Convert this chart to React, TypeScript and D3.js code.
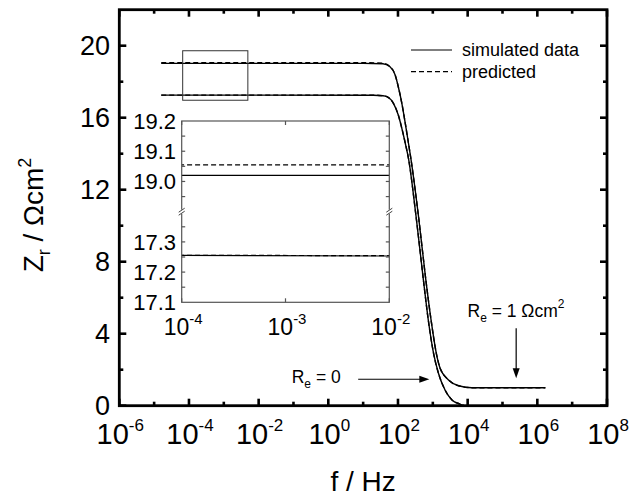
import React from "react";
import * as d3 from "d3";

// Upper curve: R_e = 1 Ωcm²
const freqUpper = [1.6e-5, 1e1, 3.7e1, 5.9e1, 8.3e1, 1.02e2, 1.29e2, 1.62e2, 2.0e2, 2.34e2, 3.89e2, 6.31e2, 8.91e2, 1.26e3, 1.62e3, 2.82e3, 5.5e3, 1.32e4, 1.7e6];
const zSimUpper = [19.02, 19.02, 19.0, 18.83, 18.37, 17.72, 16.8, 15.69, 14.58, 13.74, 10.5, 6.98, 4.76, 2.91, 2.08, 1.43, 1.11, 1.0, 1.0];
const zPredUpper = [19.055, 19.055, 19.03, 18.84, 18.37, 17.72, 16.8, 15.69, 14.58, 13.74, 10.5, 6.98, 4.76, 2.91, 2.08, 1.43, 1.11, 1.0, 1.0];

// Lower curve: R_e = 0
const freqLower = [1.6e-5, 2.0e1, 3.7e1, 4.8e1, 7.4e1, 1.02e2, 1.29e2, 1.62e2, 2.0e2, 3.31e2, 5.37e2, 7.41e2, 1.05e3, 1.45e3, 2.24e3, 3.55e3, 6.03e3, 7.9e3];
const zSimLower = [17.256, 17.25, 17.22, 17.17, 16.8, 16.15, 15.41, 14.58, 13.74, 10.5, 6.98, 4.76, 2.91, 1.8, 0.87, 0.32, 0.09, 0.0];
const zPredLower = [17.256, 17.25, 17.22, 17.17, 16.8, 16.15, 15.41, 14.58, 13.74, 10.5, 6.98, 4.76, 2.91, 1.8, 0.87, 0.32, 0.09, 0.0];

// axis ticks
const xMajorExp = [-6, -4, -2, 0, 2, 4, 6, 8];
const xMinorExp = [-5, -3, -1, 1, 3, 5, 7];
const yMajor = [0, 4, 8, 12, 16, 20];
const yMinor = [2, 6, 10, 14, 18];

// inset
const insetXExp = [-4, -3, -2];
const insetTopLabels = [19.0, 19.1, 19.2];
const insetTopTicks = [18.95, 19.0, 19.05, 19.1, 19.15];
const insetBotLabels = [17.1, 17.2, 17.3];
const insetBotTicks = [17.15, 17.2, 17.25, 17.3, 17.35];

// zoom box in main axes (data coords)
const zoomBoxF = [6.6e-5, 4.9e-3];
const zoomBoxZ = [16.97, 19.72];

const legendLabels = ["simulated data", "predicted"];

const FONT = "'Liberation Sans', Arial, Helvetica, sans-serif";

export default function App() {
  const W = 629, H = 498;
  const L = 119.3, R = 607, T = 9.7, B = 405.7;
  const x = d3.scaleLog().domain([1e-6, 1e8]).range([L, R]);
  const y = d3.scaleLinear().domain([0, 22]).range([B, T]);

  const iL = 181.7, iR = 389.3, iT = 121, iB = 302.3, iM = 211.7;
  const xi = d3.scaleLog().domain([1e-4, 1e-2]).range([iL, iR]);
  const yTop = d3.scaleLinear().domain([18.9, 19.2]).range([iM, iT]);
  const yBot = d3.scaleLinear().domain([17.1, 17.4]).range([iB, iM]);

  const mk = (xs: any, ys: any, fr: number[], zs: number[]) =>
    d3.line<number>().x((_, i) => xs(fr[i])).y((d) => ys(d)).curve(d3.curveMonotoneX)(zs) || "";

  const lineW = 1.4;
  const dash = "5,3";

  const axW = 2.8;
  const majL = 7, minL = 4;

  return (
    <svg width={W} height={H} style={{ position: "absolute", left: 0, top: 0, background: "#fff" }} fontFamily={FONT}>
      <defs>
        <clipPath id="mainclip"><rect x={L} y={T} width={R - L} height={B - T} /></clipPath>
        <clipPath id="itop"><rect x={iL} y={iT} width={iR - iL} height={iM - iT} /></clipPath>
        <clipPath id="ibot"><rect x={iL} y={iM} width={iR - iL} height={iB - iM} /></clipPath>
      </defs>

      {/* data lines main */}
      <g clipPath="url(#mainclip)" fill="none" stroke="#000">
        <path d={mk(x, y, freqUpper, zSimUpper)} strokeWidth={lineW} />
        <path d={mk(x, y, freqLower, zSimLower)} strokeWidth={lineW} />
        <path d={mk(x, y, freqUpper, zPredUpper)} strokeWidth={lineW} strokeDasharray={dash} />
        <path d={mk(x, y, freqLower, zPredLower)} strokeWidth={lineW} strokeDasharray={dash} />
      </g>

      {/* zoom box */}
      <rect x={x(zoomBoxF[0])} y={y(zoomBoxZ[1])} width={x(zoomBoxF[1]) - x(zoomBoxF[0])} height={y(zoomBoxZ[0]) - y(zoomBoxZ[1])} fill="none" stroke="#333" strokeWidth={1} />

      {/* main frame */}
      <rect x={L} y={T} width={R - L} height={B - T} fill="none" stroke="#000" strokeWidth={axW} />
      {xMajorExp.map((e) => (
        <g key={"xM" + e}>
          <line x1={x(10 ** e)} x2={x(10 ** e)} y1={B} y2={B - majL} stroke="#000" strokeWidth={2.6} />
          <line x1={x(10 ** e)} x2={x(10 ** e)} y1={T} y2={T + majL} stroke="#000" strokeWidth={2.6} />
          <text x={x(10 ** e) + 1} y={444} textAnchor="middle" fontSize={29} fill="#000">
            10<tspan dy={-13} fontSize={17}>{e}</tspan>
          </text>
        </g>
      ))}
      {xMinorExp.map((e) => (
        <g key={"xm" + e}>
          <line x1={x(10 ** e)} x2={x(10 ** e)} y1={B} y2={B - minL} stroke="#000" strokeWidth={2.6} />
          <line x1={x(10 ** e)} x2={x(10 ** e)} y1={T} y2={T + minL} stroke="#000" strokeWidth={2.6} />
        </g>
      ))}
      {yMajor.map((v) => (
        <g key={"yM" + v}>
          <line x1={L} x2={L + majL} y1={y(v)} y2={y(v)} stroke="#000" strokeWidth={2.6} />
          <line x1={R} x2={R - majL} y1={y(v)} y2={y(v)} stroke="#000" strokeWidth={2.6} />
          <text x={110} y={y(v)} dy="0.35em" textAnchor="end" fontSize={27} fill="#000">{v}</text>
        </g>
      ))}
      {yMinor.map((v) => (
        <g key={"ym" + v}>
          <line x1={L} x2={L + minL} y1={y(v)} y2={y(v)} stroke="#000" strokeWidth={2.6} />
          <line x1={R} x2={R - minL} y1={y(v)} y2={y(v)} stroke="#000" strokeWidth={2.6} />
        </g>
      ))}

      {/* axis titles */}
      <text x={(L + R) / 2} y={490.7} textAnchor="middle" fontSize={28} fill="#000">f / Hz</text>
      <text transform="translate(43,215) rotate(-90)" textAnchor="middle" fontSize={28} fill="#000">
        Z<tspan dy={7} fontSize={18}>r</tspan><tspan dy={-7}> / Ωcm</tspan><tspan dy={-12} fontSize={18}>2</tspan>
      </text>

      {/* legend */}
      <line x1={411} x2={452} y1={50} y2={50} stroke="#000" strokeWidth={1.2} />
      <text x={462} y={56} fontSize={18} fill="#000">{legendLabels[0]}</text>
      <line x1={411} x2={452} y1={71.7} y2={71.7} stroke="#000" strokeWidth={1.2} strokeDasharray={dash} />
      <text x={462} y={78} fontSize={18} fill="#000">{legendLabels[1]}</text>

      {/* annotations */}
      <text x={x(0.089)} y={y(1.24)} fontSize={17.5} fill="#000">
        R<tspan dy={5} fontSize={12}>e</tspan><tspan dy={-5}> = 0</tspan>
      </text>
      <line x1={x(7.2)} x2={x(794) - 8} y1={y(1.47)} y2={y(1.47)} stroke="#000" strokeWidth={1.2} />
      <path d={`M${x(794)},${y(1.47)} l-10,-3.5 l0,7 z`} fill="#000" />

      <text x={x(9.9e3)} y={y(4.94)} fontSize={17.5} fill="#000">
        R<tspan dy={5} fontSize={12}>e</tspan><tspan dy={-5}> = 1 Ωcm</tspan><tspan dy={-9} fontSize={12}>2</tspan>
      </text>
      <line x1={x(2.47e5)} x2={x(2.47e5)} y1={y(4.3)} y2={y(1.52) - 8} stroke="#000" strokeWidth={1.2} />
      <path d={`M${x(2.47e5)},${y(1.52)} l-3.5,-10 l7,0 z`} fill="#000" />

      {/* inset */}
      <rect x={iL} y={iT} width={iR - iL} height={iB - iT} fill="#fff" stroke="none" />
      <g clipPath="url(#itop)" fill="none" stroke="#000">
        <path d={mk(xi, yTop, freqUpper, zSimUpper)} strokeWidth={1.2} />
        <path d={mk(xi, yTop, freqUpper, zPredUpper)} strokeWidth={1.2} strokeDasharray={dash} />
      </g>
      <g clipPath="url(#ibot)" fill="none" stroke="#000">
        <path d={mk(xi, yBot, freqLower, zSimLower)} strokeWidth={1.2} />
        <path d={mk(xi, yBot, freqLower, zPredLower)} strokeWidth={1.2} strokeDasharray={dash} />
      </g>
      <rect x={iL} y={iT} width={iR - iL} height={iB - iT} fill="none" stroke="#555" strokeWidth={1.2} />
      {insetXExp.map((e) => (
        <g key={"ix" + e}>
          <line x1={xi(10 ** e)} x2={xi(10 ** e)} y1={iB} y2={iB - 4} stroke="#555" strokeWidth={1.2} />
          <line x1={xi(10 ** e)} x2={xi(10 ** e)} y1={iT} y2={iT + 4} stroke="#555" strokeWidth={1.2} />
          <text x={xi(10 ** e) + 1.5} y={335} textAnchor="middle" fontSize={23} fill="#000">
            10<tspan dy={-11} fontSize={15}>{e}</tspan>
          </text>
        </g>
      ))}
      {insetTopTicks.map((v) => (
        <g key={"itt" + v}>
          <line x1={iL} x2={iL + 3.5} y1={yTop(v)} y2={yTop(v)} stroke="#555" strokeWidth={1.2} />
          <line x1={iR} x2={iR - 3.5} y1={yTop(v)} y2={yTop(v)} stroke="#555" strokeWidth={1.2} />
        </g>
      ))}
      {insetBotTicks.map((v) => (
        <g key={"ibt" + v}>
          <line x1={iL} x2={iL + 3.5} y1={yBot(v)} y2={yBot(v)} stroke="#555" strokeWidth={1.2} />
          <line x1={iR} x2={iR - 3.5} y1={yBot(v)} y2={yBot(v)} stroke="#555" strokeWidth={1.2} />
        </g>
      ))}
      {insetTopLabels.map((v) => (
        <text key={"itl" + v} x={176} y={yTop(v)} dy="0.35em" textAnchor="end" fontSize={22} fill="#000">{v.toFixed(1)}</text>
      ))}
      {insetBotLabels.map((v) => (
        <text key={"ibl" + v} x={176} y={yBot(v)} dy="0.35em" textAnchor="end" fontSize={22} fill="#000">{v.toFixed(1)}</text>
      ))}
      {/* axis breaks */}
      {[iL, iR].map((bx) => (
        <g key={"br" + bx}>
          <rect x={bx - 2} y={iM - 2} width={4} height={4} fill="#fff" />
          <line x1={bx - 3} x2={bx + 3} y1={iM + 0.5} y2={iM - 3.5} stroke="#444" strokeWidth={1} />
          <line x1={bx - 3} x2={bx + 3} y1={iM + 3.5} y2={iM - 0.5} stroke="#444" strokeWidth={1} />
        </g>
      ))}
    </svg>
  );
}
